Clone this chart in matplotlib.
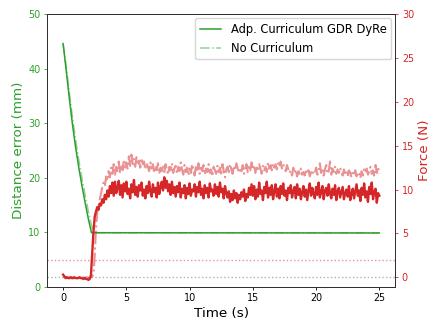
import matplotlib
matplotlib.use("Agg")
import numpy as np
import matplotlib.pyplot as plt

# Distance error (mm) - smooth curves, key points
dist_t_adp = [0, 0.25, 0.5, 0.75, 1.0, 1.25, 1.5, 1.75, 2.0, 2.24, 25.0]
dist_adp = [44.6, 39.6, 34.4, 29.6, 25.4, 21.7, 18.4, 15.3, 12.4, 9.9, 9.85]

dist_t_nc = [0, 0.25, 0.5, 0.75, 1.0, 1.25, 1.5, 1.75, 2.0, 2.25, 2.4, 25.0]
dist_nc = [44.6, 40.3, 35.5, 30.9, 26.8, 23.1, 19.8, 16.7, 13.8, 11.2, 9.9, 9.9]

# Force (N), sampled every 0.1 s from 0 to 25 s
force_adp = [
    0.3, 0.1, -0.1, 0.0, -0.1, -0.1, 0.0, -0.1, -0.1, 0.0,
    -0.1, -0.1, -0.1, 0.0, -0.1, -0.1, -0.2, -0.1, -0.2, -0.2,
    -0.3, -0.2, 0.2, 2.6, 5.2, 6.9, 7.5, 8.0, 7.7, 8.4,
    8.2, 8.9, 8.5, 9.4, 8.9, 9.9, 9.2, 10.4, 9.6, 10.8,
    9.3, 10.9, 9.6, 10.2, 11.0, 9.4, 10.5, 9.1, 10.7, 9.8,
    10.9, 9.5, 10.1, 9.0, 10.6, 9.7, 11.1, 9.4, 10.3, 9.2,
    10.5, 9.9, 10.8, 9.3, 10.0, 9.0, 10.4, 9.6, 10.9, 9.8,
    9.2, 10.6, 9.7, 10.2, 9.1, 10.8, 9.5, 10.3, 10.9, 9.9,
    11.4, 10.2, 11.0, 9.8, 10.6, 9.4, 10.9, 9.6, 10.3, 9.2,
    10.4, 9.7, 10.8, 9.1, 10.1, 9.6, 10.5, 9.0, 10.2, 9.5,
    10.7, 9.3, 10.0, 9.8, 10.6, 9.2, 10.3, 9.7, 10.9, 9.4,
    10.1, 9.0, 10.5, 9.6, 10.2, 9.1, 10.7, 9.8, 10.0, 9.3,
    10.6, 9.5, 10.3, 9.2, 10.8, 9.7, 10.1, 9.0, 10.4, 9.6,
    9.1, 9.8, 8.6, 9.5, 8.8, 9.9, 9.0, 9.6, 8.5, 9.4,
    8.9, 9.7, 9.2, 10.0, 8.7, 9.5, 9.1, 10.2, 9.4, 10.6,
    9.3, 10.4, 8.9, 10.0, 9.2, 10.8, 9.5, 9.9, 8.8, 10.3,
    9.6, 10.9, 9.1, 10.2, 9.4, 10.5, 8.9, 9.8, 10.6, 9.2,
    10.1, 9.0, 10.4, 9.5, 10.7, 9.3, 9.9, 8.8, 10.2, 9.6,
    10.5, 9.1, 9.8, 10.3, 9.0, 10.6, 9.4, 10.1, 8.9, 9.7,
    10.4, 9.2, 10.0, 8.8, 9.9, 10.7, 9.3, 10.2, 9.5, 9.0,
    10.3, 9.4, 10.8, 9.1, 9.7, 10.4, 8.9, 9.9, 10.2, 9.3,
    10.6, 9.6, 9.0, 10.1, 9.4, 10.5, 8.8, 9.8, 10.2, 9.1,
    9.7, 10.3, 8.9, 9.6, 10.0, 9.2, 10.4, 8.8, 9.5, 10.1,
    9.0, 9.8, 10.6, 9.3, 9.9, 8.7, 10.2, 9.4, 10.7, 9.1,
    9.8, 8.6, 10.3, 9.5, 10.8, 8.9, 9.7, 10.1, 8.5, 9.6,
    9.3,
]

force_nc = [
    0.1, 0.0, 0.0, -0.1, 0.0, 0.0, -0.1, 0.0, 0.0, -0.1,
    0.0, 0.0, -0.1, 0.0, 0.0, -0.1, 0.0, -0.1, 0.0, 0.0,
    -0.1, 0.0, 0.0, 0.1, 0.3, 2.5, 5.6, 7.4, 8.2, 8.9,
    9.6, 10.3, 10.8, 10.4, 11.5, 11.0, 12.1, 11.4, 12.5, 11.8,
    12.9, 11.7, 12.6, 12.0, 13.2, 11.9, 12.8, 12.2, 13.4, 12.5,
    13.1, 12.4, 13.8, 12.7, 14.0, 12.9, 13.5, 12.6, 13.7, 12.8,
    13.3, 12.5, 13.6, 12.9, 13.2, 12.3, 13.0, 12.6, 12.1, 13.1,
    12.4, 12.9, 11.9, 12.7, 12.2, 13.0, 11.8, 12.5, 12.1, 12.8,
    12.0, 12.9, 12.3, 11.7, 12.6, 12.2, 13.0, 11.9, 12.4, 12.7,
    11.8, 12.6, 12.1, 13.1, 12.3, 11.7, 12.8, 12.0, 12.5, 11.6,
    12.4, 11.9, 12.9, 12.2, 11.6, 12.7, 12.0, 13.0, 11.8, 12.5,
    12.1, 12.8, 11.7, 12.4, 12.0, 12.9, 11.9, 12.3, 11.5, 12.6,
    12.2, 11.8, 12.7, 12.0, 12.5, 11.6, 12.9, 12.1, 11.4, 12.3,
    12.6, 12.0, 12.9, 12.3, 11.8, 12.7, 12.2, 13.0, 12.4, 11.9,
    12.5, 12.1, 12.8, 11.8, 12.4, 12.9, 12.0, 12.6, 12.2, 13.1,
    12.3, 12.8, 11.9, 12.5, 12.1, 12.9, 12.4, 11.8, 12.7, 12.2,
    12.6, 12.0, 13.1, 12.4, 12.8, 12.2, 13.0, 12.5, 12.9, 12.3,
    13.0, 12.6, 13.2, 12.4, 12.9, 12.5, 12.1, 12.8, 12.3, 11.9,
    12.2, 11.6, 12.5, 11.9, 12.3, 11.5, 12.1, 11.8, 12.4, 11.7,
    12.0, 11.6, 12.3, 11.8, 12.2, 11.5, 12.0, 11.7, 12.1, 11.9,
    12.5, 11.7, 12.2, 13.0, 11.9, 12.4, 11.6, 12.3, 12.8, 11.8,
    12.1, 13.2, 11.7, 12.4, 12.0, 12.6, 11.8, 12.3, 11.9, 12.5,
    12.0, 11.6, 12.3, 11.8, 12.1, 11.5, 12.2, 11.9, 11.4, 12.0,
    11.7, 12.2, 11.5, 12.0, 11.8, 11.3, 12.1, 11.6, 12.3, 11.9,
    12.4, 11.7, 12.1, 12.6, 11.8, 12.2, 11.5, 12.8, 11.9, 12.5,
    11.8,
]
force_t = np.arange(len(force_adp)) * 0.1

green = "tab:green"
red = "tab:red"

# original figure looks like a default-size plot scaled down, so shrink everything
plt.rcParams["xtick.major.size"] = 2.4
plt.rcParams["ytick.major.size"] = 2.4
plt.rcParams["xtick.major.width"] = 0.6
plt.rcParams["ytick.major.width"] = 0.6
plt.rcParams["axes.linewidth"] = 0.7

fig = plt.figure(figsize=(4.42, 3.31), dpi=100)
ax1 = fig.add_axes([0.107, 0.134, 0.787, 0.823])
ax2 = ax1.twinx()

ax1.plot(dist_t_adp, dist_adp, color=green, lw=1.1, label="Adp. Curriculum GDR DyRe")
ax1.plot(dist_t_nc, dist_nc, color=green, lw=1.1, ls="-.", alpha=0.5, label="No Curriculum")

ax2.axhline(2.0, color=red, ls=":", lw=1.0, alpha=0.5)
ax2.axhline(0.0, color="gray", ls=":", lw=1.0, alpha=0.6)
ax2.plot(force_t, force_nc, color=red, lw=1.5, ls="-.", alpha=0.5)
ax2.plot(force_t, force_adp, color=red, lw=1.7)

ax1.set_xlim(-1.25, 26.25)
ax1.set_ylim(0, 50)
ax2.set_ylim(-1.07, 30)
ax1.set_xticks([0, 5, 10, 15, 20, 25])
ax2.set_yticks([0, 5, 10, 15, 20, 25, 30])

ax1.set_xlabel("Time (s)", fontsize=9.7, labelpad=2.5)
ax1.set_ylabel("Distance error (mm)", color=green, fontsize=9.7, labelpad=2.5)
ax2.set_ylabel("Force (N)", color=red, fontsize=9.7, labelpad=2.5)
ax1.tick_params(axis="y", colors=green, labelsize=6.9, pad=2.4)
ax1.tick_params(axis="x", labelsize=6.9, pad=2.4)
ax2.tick_params(axis="y", colors=red, labelsize=6.9, pad=2.4)
for sp in ["left", "right", "top", "bottom"]:
    ax2.spines[sp].set_color("#333333")

ax1.legend(loc="upper right", fontsize=8.3, borderaxespad=0.35, handlelength=1.9)

fig.savefig("out.png", dpi=100)
